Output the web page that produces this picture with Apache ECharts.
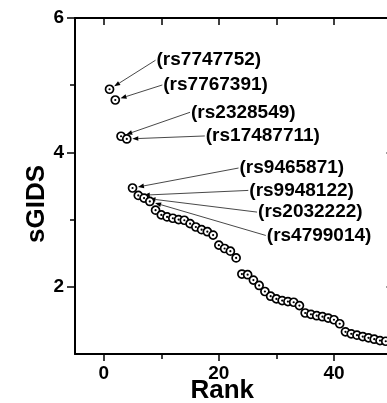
<!DOCTYPE html>
<html>
<head>
<meta charset="utf-8">
<script src="https://cdn.jsdelivr.net/npm/echarts@6/dist/echarts.min.js"></script>
<style>
html,body{margin:0;padding:0;background:#fff;overflow:hidden;}
#chart{width:392px;height:403px;}
</style>
</head>
<body>
<div id="chart"></div>
<script>
// ---- data ----
const ranks = [1,2,3,4,5,6,7,8,9,10,11,12,13,14,15,16,17,18,19,20,21,22,23,24,25,26,27,28,29,30,31,32,33,34,35,36,37,38,39,40,41,42,43,44,45,46,47,48,49];
const sgids = [4.94,4.78,4.24,4.20,3.47,3.36,3.32,3.27,3.14,3.07,3.04,3.02,3.00,2.99,2.94,2.89,2.85,2.82,2.77,2.62,2.57,2.53,2.43,2.19,2.18,2.10,2.02,1.93,1.86,1.82,1.795,1.78,1.77,1.72,1.61,1.59,1.57,1.555,1.535,1.51,1.45,1.33,1.30,1.28,1.26,1.24,1.22,1.20,1.19];
const snpIds = ['(rs7747752)','(rs7767391)','(rs2328549)','(rs17487711)','(rs9465871)','(rs9948122)','(rs2032222)','(rs4799014)'];
const snpRanks = [1,2,3,4,5,6,7,8];
const xTickLabels = [0,20,40];
const yTickLabels = [2,4,6];

// ---- layout of annotation labels (pixel offsets from the marked point) ----
const labelOffsets = [[46,-29],[47,-15],[69,-24],[78,-3],[106,-20],[110,-5],[113,14],[116,34]];

const FONT = 'Liberation Sans, Arial, sans-serif';
const pts = ranks.map((r,i)=>[r, sgids[i]]);
const annData = snpRanks.map((r,i)=>[r, sgids[ranks.indexOf(r)], i]);

const chart = echarts.init(document.getElementById('chart'));
const lineStyle = {color:'#000', width:2};
chart.setOption({
  animation:false,
  backgroundColor:'#fff',
  grid:{left:75, right:0.5, top:18, bottom:49, containLabel:false, outerBoundsMode:'none'},
  xAxis:[
    {type:'value', position:'bottom', min:-5, max:50,
     axisLine:{show:true, onZero:false, lineStyle:lineStyle},
     axisTick:{show:true, inside:false, length:7, customValues:xTickLabels, lineStyle:{color:'#000', width:1.5}},
     axisLabel:{customValues:xTickLabels, margin:10, color:'#000', fontSize:19, fontWeight:'bold', fontFamily:FONT},
     splitLine:{show:false},
     name:'Rank', nameLocation:'middle', nameGap:24, nameMoveOverlap:false,
     nameTextStyle:{color:'#000', fontSize:26, fontWeight:'bold', fontFamily:FONT, padding:[0,22,0,0]}},
    {type:'value', position:'bottom', min:-5, max:50,
     axisLine:{show:false, onZero:false},
     axisTick:{show:true, inside:false, length:5, customValues:[10,30], lineStyle:{color:'#000', width:1.5}},
     axisLabel:{show:false}, splitLine:{show:false}},
    {type:'value', position:'top', min:-5, max:50,
     axisLine:{show:true, onZero:false, lineStyle:lineStyle},
     axisTick:{show:true, inside:true, length:7, customValues:[0,10,20,30,40], lineStyle:{color:'#000', width:1.5}},
     axisLabel:{show:false}, splitLine:{show:false}}
  ],
  yAxis:[
    {type:'value', position:'left', min:1, max:6,
     axisLine:{show:true, onZero:false, lineStyle:lineStyle},
     axisTick:{show:true, inside:false, length:8, customValues:yTickLabels, lineStyle:{color:'#000', width:1.5}},
     axisLabel:{customValues:yTickLabels, margin:11, color:'#000', fontSize:19, fontWeight:'bold', fontFamily:FONT},
     splitLine:{show:false},
     name:'sGIDS', nameLocation:'middle', nameGap:25, nameMoveOverlap:false,
     nameTextStyle:{color:'#000', fontSize:26, fontWeight:'bold', fontFamily:FONT, padding:[0,36,0,0]}},
    {type:'value', position:'left', min:1, max:6,
     axisLine:{show:false, onZero:false},
     axisTick:{show:true, inside:false, length:5, customValues:[3,5], lineStyle:{color:'#000', width:1.5}},
     axisLabel:{show:false}, splitLine:{show:false}},
    {type:'value', position:'right', min:1, max:6,
     axisLine:{show:true, onZero:false, lineStyle:lineStyle},
     axisTick:{show:true, inside:true, length:5, customValues:yTickLabels, lineStyle:{color:'#000', width:1.5}},
     axisLabel:{show:false}, splitLine:{show:false}}
  ],
  series:[
    {type:'custom', xAxisIndex:0, yAxisIndex:0, clip:false, z:1,
     encode:{x:0, y:1},
     data:annData,
     renderItem:function(params, api){
       const p = api.coord([api.value(0), api.value(1)]);
       const k = api.value(2);
       const off = labelOffsets[k];
       const sx = p[0]+off[0], sy = p[1]+off[1];
       const dxv = p[0]-sx, dyv = p[1]-sy;
       const L = Math.sqrt(dxv*dxv+dyv*dyv);
       const ux = dxv/L, uy = dyv/L;
       const tx = p[0]-ux*5.5, ty = p[1]-uy*5.5;
       const bx = tx-ux*6, by = ty-uy*6;
       const px = -uy, py = ux;
       return {type:'group', children:[
         {type:'line', shape:{x1:sx, y1:sy, x2:bx, y2:by}, style:{stroke:'#333', lineWidth:0.9}},
         {type:'polygon', shape:{points:[[tx,ty],[bx+px*2.3,by+py*2.3],[bx-px*2.3,by-py*2.3]]}, style:{fill:'#000'}},
         {type:'text', style:{x:sx+1, y:sy, text:snpIds[k], fill:'#000', fontSize:19, fontWeight:'bold', fontFamily:FONT, align:'left', verticalAlign:'middle'}}
       ]};
     }},
    {type:'scatter', xAxisIndex:0, yAxisIndex:0, data:pts, z:3,
     symbol:'circle', symbolSize:8,
     itemStyle:{color:'#fff', borderColor:'#000', borderWidth:1.7, opacity:1}},
    {type:'scatter', xAxisIndex:0, yAxisIndex:0, data:pts, z:4,
     symbol:'circle', symbolSize:2.2, silent:true,
     itemStyle:{color:'#000', opacity:1}}
  ]
});
</script>
</body>
</html>
